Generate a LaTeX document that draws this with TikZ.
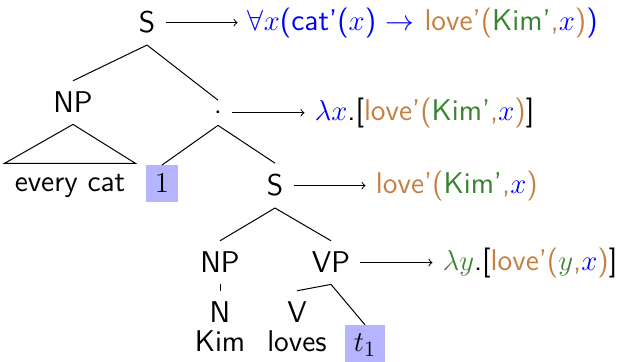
\documentclass[tikz,border=0pt]{standalone}
\usepackage{xcolor}
\usepackage{tikz}
\usetikzlibrary{positioning}
\definecolor{semblue}{RGB}{0,0,255}
\definecolor{sembrown}{RGB}{196,128,64}
\definecolor{semgreen}{RGB}{56,132,48}
\definecolor{traceblue}{RGB}{180,180,255}
\newcommand{\treefont}{\fontsize{15}{18}\selectfont\sffamily}
\newcommand{\lovekim}{{\color{sembrown}love'(}{\color{semgreen}Kim'}{\color{sembrown},}{\color{semblue}$x$}{\color{sembrown})}}
\tikzset{
  syn/.style={font=\treefont, inner xsep=5pt, inner ysep=5.5pt, anchor=base},
  sem/.style={font=\treefont, inner xsep=5pt, inner ysep=2pt},
  trace/.style={syn, fill=traceblue, inner sep=4.5pt},
  branch/.style={line width=0.5pt},
  maps/.style={->, line width=0.5pt},
}

\begin{document}
\begin{tikzpicture}[x=0.5pt, y=-0.5pt]
  \useasboundingbox (0,0) rectangle (622,362);
  % tree
  \node[syn] (s0)  at (147,33)  {S};
  \node[syn] (np1) at (73,113)  {NP};
  \node[syn] (dot) at (218,114) {.};
  \node[syn] (ec)  at (70,192)  {every cat};
  \node[trace] (one) at (162,193) {$1$};
  \node[syn] (s1)  at (275,196) {S};
  \node[syn] (np2) at (220,273) {NP};
  \node[syn] (vp)  at (331,273) {VP};
  \node[syn] (n)   at (220,323) {N};
  \node[syn] (v)   at (297,323) {V};
  \node[syn] (kim) at (220,352) {Kim};
  \node[syn] (lv)  at (297,352) {loves};
  \node[trace] (t1) at (365,352) {$t_1$};
  \foreach \u/\v in {s0/np1, s0/dot, dot/one, dot/s1, s1/np2, s1/vp, np2/n, vp/v, vp/t1}
    \draw[branch] (\u.south) -- (\v.north);
  \draw[branch] (np1.south) -- (ec.north west) -- (ec.north east) -- cycle;
  % meanings
  \node[sem, right=36pt of s0]  (m0) {{\color{semblue}$\forall x$(cat'($x$) $\rightarrow$ }\lovekim{\color{semblue})}};
  \node[sem, right=36pt of dot] (m1) {{\color{semblue}$\lambda x$}.[\lovekim]};
  \node[sem, right=36pt of s1]  (m2) {\lovekim};
  \node[sem, right=36pt of vp]  (m3) {{\color{semgreen}$\lambda y$}.[{\color{sembrown}love'(}{\color{semgreen}$y$}{\color{sembrown},}{\color{semblue}$x$}{\color{sembrown})}]};
  \foreach \u/\v in {s0/m0, dot/m1, s1/m2, vp/m3} \draw[maps] (\u) -- (\v);
\end{tikzpicture}
\end{document}
